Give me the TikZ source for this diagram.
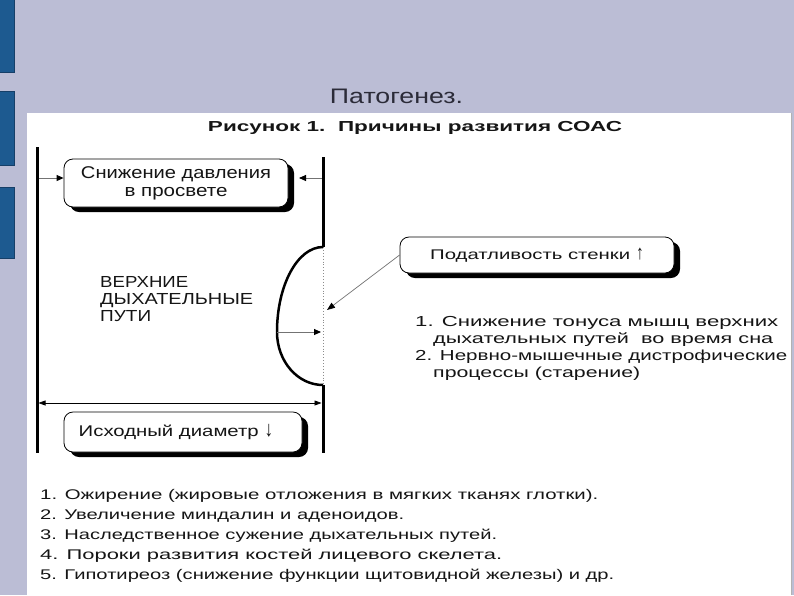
\documentclass[tikz,border=0pt]{standalone}
\usepackage{fontspec}
\setmainfont{Liberation Sans}
\usetikzlibrary{arrows.meta,shadows}
\newcommand\fw[2]{\resizebox{#1pt}{\height}{#2}}
\newcommand\upar{\raisebox{-0.5pt}{\scalebox{1.1}[1.45]{\bfseries ↑}}}
\newcommand\dnar{\raisebox{0pt}{\scalebox{1.1}[1.4]{↓}}}
\definecolor{lav}{HTML}{BBBDD5}
\definecolor{bluebar}{HTML}{1D5A90}
\definecolor{bluedark}{HTML}{163F68}
\definecolor{titlec}{HTML}{2B2B38}
\definecolor{txt}{HTML}{151515}
\tikzset{
  wall/.style={line width=3pt},
  box/.style={draw=black, line width=0.8pt, fill=white, rounded corners=9pt,
    drop shadow={shadow xshift=6pt, shadow yshift=-5pt, opacity=1, fill=black},
    inner sep=0pt, align=center, text=txt},
  arr/.style={draw=black!55, line width=0.9pt, -{Triangle[length=7pt,width=6pt,color=black]}},
  thinarr/.style={draw=black!55, line width=0.7pt, -{Triangle[length=8pt,width=6pt,color=black]}},
  dblarr/.style={draw=black, line width=0.7pt, {Triangle[length=7pt,width=5pt]}-{Triangle[length=7pt,width=5pt]}},
  lbl/.style={inner sep=0pt, anchor=base west, text=txt},
  bar/.style={fill=bluebar, draw=bluedark, line width=1pt}
}
\begin{document}
\begin{tikzpicture}[x=1pt,y=-1pt]
\useasboundingbox (0,0) rectangle (794,595);
\fill[lav] (0,0) rectangle (794,595);
\filldraw[bar] (-1,-1) rectangle (14.5,72);
\filldraw[bar] (-1,91) rectangle (14.5,165);
\filldraw[bar] (-1,187) rectangle (14.5,258);
\fill[white] (27,113) rectangle (791,595);
\draw[black!30, line width=0.8pt] (791,113) -- (791,595);

\node[inner sep=0pt, anchor=base, text=titlec, font=\fontsize{21}{24}\selectfont] (title) at (396.5,103) {\fw{133}{Патогенез.}};
\node[inner sep=0pt, anchor=base, text=txt, font=\bfseries\fontsize{14.5}{17}\selectfont] (sub) at (415,131) {\fw{414}{Рисунок 1.\ \ Причины развития СОАС}};

% walls
\coordinate (LT) at (37,147);
\coordinate (LB) at (37,453);
\coordinate (RT) at (323,157);
\coordinate (RA) at (323,247);
\coordinate (RB) at (323,385);
\coordinate (RE) at (323,453);
\coordinate (BL) at (277,332);
\draw[wall] (LT) -- (LB);
\draw[wall] (RT) -- (RA);
\draw[wall] (RB) -- (RE);
\draw[black!45, dotted, line width=0.9pt] (RA) -- (RB);
\draw[line width=2.5pt] (RA) arc[start angle=270, end angle=180, x radius=46, y radius=85]
  arc[start angle=180, end angle=90, x radius=46, y radius=53];

% boxes
\node[box, minimum width=224, minimum height=48, font=\fontsize{17}{18}\selectfont] (box1) at (176,183)
  {\fw{190}{Снижение давления}\\\fw{103}{в просвете}};
\node[box, minimum width=274, minimum height=36, font=\fontsize{14}{16}\selectfont] (box2) at (537,255)
  {\fw{200}{Податливость стенки}\hspace{6pt}\upar};
\node[box, minimum width=238, minimum height=40, font=\fontsize{15.5}{17}\selectfont] (box3) at (183,432)
  {\fw{180}{Исходный диаметр}\hspace{6pt}\dnar\hspace{14pt}};

% connectors
\coordinate (a1) at (38.5,178);
\draw[arr] (a1) -- (a1 -| box1.west);
\coordinate (a2) at (321.5,178);
\coordinate (a2e) at (299,178);
\draw[arr] (a2) -- (a2e);
\coordinate (d) at (327,310);
\draw[thinarr] (box2.west) -- (d);
\coordinate (BR) at (321,332);
\draw[arr] (BL) -- (BR);
\coordinate (h1) at (38.5,403);
\coordinate (h2) at (321.5,403);
\draw[dblarr] (h1) -- (h2);

% labels
\node[lbl, font=\fontsize{16}{18}\selectfont] (v1) at (100,287) {\fw{88}{ВЕРХНИЕ}};
\node[lbl, font=\fontsize{16}{18}\selectfont] (v2) at (100,304) {\fw{153}{ДЫХАТЕЛЬНЫЕ}};
\node[lbl, font=\fontsize{16}{18}\selectfont] (v3) at (100,321) {\fw{51}{ПУТИ}};

\node[lbl, font=\fontsize{14.5}{17}\selectfont] (r1) at (415,326) {\fw{363}{1. Снижение тонуса мышц верхних}};
\node[lbl, font=\fontsize{14.5}{17}\selectfont] (r2) at (433,343) {\fw{340}{дыхательных путей\ \ во время сна}};
\node[lbl, font=\fontsize{14.5}{17}\selectfont] (r3) at (415,360) {\fw{372}{2. Нервно-мышечные дистрофические}};
\node[lbl, font=\fontsize{14.5}{17}\selectfont] (r4) at (433,377) {\fw{207}{процессы (старение)}};

\node[lbl, font=\fontsize{14}{17}\selectfont] (b1) at (40,499) {\fw{558}{1. Ожирение (жировые отложения в мягких тканях глотки).}};
\node[lbl, font=\fontsize{14}{17}\selectfont] (b2) at (40,519) {\fw{364}{2. Увеличение миндалин и аденоидов.}};
\node[lbl, font=\fontsize{14}{17}\selectfont] (b3) at (40,539) {\fw{457}{3. Наследственное сужение дыхательных путей.}};
\node[lbl, font=\fontsize{14}{17}\selectfont] (b4) at (40,559) {\fw{462}{4. Пороки развития костей лицевого скелета.}};
\node[lbl, font=\fontsize{14}{17}\selectfont] (b5) at (40,579) {\fw{574}{5. Гипотиреоз (снижение функции щитовидной железы) и др.}};
\end{tikzpicture}
\end{document}
